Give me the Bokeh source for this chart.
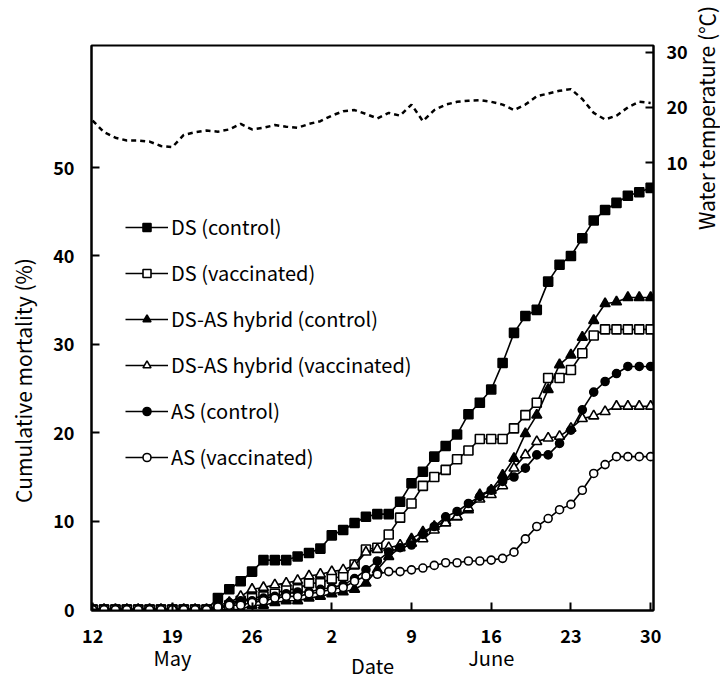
import math
from bokeh.plotting import figure
from bokeh.layouts import row
from bokeh.models import (Range1d, LinearAxis, FixedTicker, Legend, LegendItem,
                          ColumnDataSource)
from bokeh.embed import file_html
from bokeh.resources import INLINE

# ---------------- data ----------------
days = list(range(50))  # 0 = 12 May ... 49 = 30 June
x_ticks = [0, 7, 14, 21, 28, 35, 42, 49]
x_tick_labels = ["12", "19", "26", "2", "9", "16", "23", "30"]
month_labels = ["May", "June"]
month_label_days = [7, 35]
y_ticks = [0, 10, 20, 30, 40, 50]
temp_ticks = [10, 20, 30]

ds_control = [0]*11 + [1.3, 2.3, 3.2, 4.3, 5.6, 5.6, 5.6, 6.0, 6.4, 6.9,
                       8.4, 9.0, 9.8, 10.5, 10.8, 10.8, 12.2, 14.3, 15.6, 17.3,
                       18.5, 19.8, 22.1, 23.4, 24.9, 27.9, 31.3, 33.2, 33.9, 37.1,
                       39.0, 40.0, 42.0, 44.0, 45.2, 46.0, 46.8, 47.2, 47.7]
ds_vacc = [0]*12 + [0.5, 1.0, 1.3, 1.5, 1.8, 2.3, 2.3, 3.0, 3.0, 3.5,
                    3.8, 5.1, 6.8, 7.0, 8.5, 10.4, 12.0, 14.0, 15.0, 15.8,
                    17.0, 18.0, 19.3, 19.3, 19.3, 20.5, 22.0, 23.4, 26.2, 26.2,
                    27.1, 29.0, 31.0, 31.7, 31.7, 31.7, 31.7, 31.7]
hyb_control = [0]*14 + [0.5, 0.5, 0.8, 1.0, 1.0, 1.3, 1.5, 1.8, 2.0, 2.3,
                        3.0, 4.5, 6.0, 7.0, 8.0, 8.8, 9.4, 10.0, 10.5, 11.3,
                        13.0, 13.5, 15.2, 17.1, 19.9, 22.0, 24.9, 27.7, 28.8, 30.8,
                        32.7, 34.6, 34.8, 35.3, 35.3, 35.3]
hyb_vacc = [0]*12 + [0.8, 1.5, 2.3, 2.5, 2.8, 3.0, 3.3, 3.8, 4.0, 4.3,
                     4.5, 5.0, 6.5, 6.8, 7.0, 7.3, 7.5, 8.0, 9.0, 9.8,
                     10.5, 11.5, 12.5, 13.0, 14.0, 16.0, 17.5, 19.0, 19.4, 19.6,
                     20.5, 21.6, 21.9, 22.4, 23.0, 23.0, 23.0, 23.0]
as_control = [0]*11 + [0.5, 0.8, 1.0, 1.0, 1.3, 1.5, 1.8, 2.0, 2.0, 2.3,
                       2.5, 2.8, 3.5, 4.5, 5.5, 6.5, 7.0, 7.3, 8.5, 9.4,
                       10.5, 11.1, 12.0, 12.8, 13.5, 14.5, 15.0, 16.0, 17.5, 17.5,
                       18.8, 20.3, 22.6, 24.6, 25.8, 26.7, 27.5, 27.5, 27.5]
as_vacc = [0]*11 + [0.3, 0.5, 0.5, 0.8, 1.0, 1.3, 1.5, 1.5, 1.8, 2.0,
                    2.3, 2.5, 3.2, 3.8, 4.0, 4.3, 4.3, 4.5, 4.7, 5.0,
                    5.3, 5.3, 5.5, 5.5, 5.6, 5.8, 6.5, 8.0, 9.4, 10.3,
                    11.3, 11.9, 13.5, 15.4, 16.4, 17.3, 17.3, 17.3, 17.3]
water_temp = [17.6, 15.5, 14.5, 14.0, 14.0, 13.8, 13.0, 12.8, 15.0, 15.5,
              15.8, 15.6, 16.0, 17.0, 16.0, 16.3, 16.8, 16.5, 16.3, 17.0,
              17.5, 18.5, 19.3, 19.5, 18.8, 18.0, 19.0, 18.5, 20.5, 17.5,
              19.5, 20.5, 21.0, 21.2, 21.3, 21.0, 20.5, 19.5, 20.5, 22.0,
              22.5, 23.0, 23.3, 21.5, 19.0, 17.8, 18.5, 20.0, 21.0, 20.8]

series_names = ["DS (control)", "DS (vaccinated)", "DS-AS hybrid (control)",
                "DS-AS hybrid (vaccinated)", "AS (control)", "AS (vaccinated)"]
series_values = [ds_control, ds_vacc, hyb_control, hyb_vacc, as_control, as_vacc]
series_markers = ["square", "square", "triangle", "triangle", "circle", "circle"]
series_filled = [True, False, True, False, True, False]
series_sizes = [9, 9, 10, 10, 8, 8]

FONT = "Noto Sans CJK JP"
SP = "\u3000"  # ideographic space used to offset the axis titles along their axes

# ---------------- main figure ----------------
p = figure(width=690, height=682, title=None,
           x_range=Range1d(-0.1, 49.25), y_range=Range1d(-0.1, 63.8),
           output_backend="svg", toolbar_location=None,
           min_border_left=91, min_border_right=34,
           min_border_top=45, min_border_bottom=71)
p.grid.visible = False
p.outline_line_color = "black"
p.outline_line_width = 2
p.background_fill_color = "white"
p.border_fill_color = "white"

p.extra_y_ranges = {"temp": Range1d(-71.1, 31.2)}

xa = p.xaxis[0]
xa.ticker = FixedTicker(ticks=x_ticks)
xa.major_label_overrides = {t: l for t, l in zip(x_ticks, x_tick_labels)}
ya = p.yaxis[0]
ya.ticker = FixedTicker(ticks=y_ticks)
ra = LinearAxis(y_range_name="temp", ticker=FixedTicker(ticks=temp_ticks))
p.add_layout(ra, "right")

for ax in (xa, ya, ra):
    ax.axis_line_color = "black"
    ax.axis_line_width = 2
    ax.major_tick_in = 8
    ax.major_tick_out = 0
    ax.major_tick_line_width = 2
    ax.minor_tick_line_color = None
    ax.major_label_text_font = FONT
    ax.major_label_text_font_size = "18px"
    ax.major_label_text_font_style = "bold"
    ax.major_label_text_color = "black"
xa.major_label_standoff = 18
ya.major_label_standoff = 17
ra.major_label_standoff = 13

ya.axis_label = "Cumulative mortality (%)" + SP * 5
ya.axis_label_standoff = 12
ya.axis_label_text_font = FONT
ya.axis_label_text_font_size = "21px"
ya.axis_label_text_font_style = "normal"
ya.axis_label_text_color = "black"

# second axis below: month names and the "Date" title
ma = LinearAxis(ticker=FixedTicker(ticks=month_label_days))
ma.major_label_overrides = {d: m for d, m in zip(month_label_days, month_labels)}
ma.axis_line_color = None
ma.major_tick_line_color = None
ma.minor_tick_line_color = None
ma.major_tick_in = 0
ma.major_tick_out = 0
ma.major_label_standoff = -3
ma.major_label_text_font = FONT
ma.major_label_text_font_size = "20px"
ma.major_label_text_color = "black"
ma.axis_label = "Date"
ma.axis_label_standoff = -24
ma.axis_label_text_font = FONT
ma.axis_label_text_font_size = "20px"
ma.axis_label_text_font_style = "normal"
ma.axis_label_text_color = "black"
p.add_layout(ma, "below")

# temperature (dashed)
p.line(days, water_temp, y_range_name="temp", line_color="black",
       line_width=2.5, line_dash="5 4")

items = []
for name, vals, mk, filled, sz in zip(series_names, series_values, series_markers,
                                      series_filled, series_sizes):
    src = ColumnDataSource(dict(x=days, y=vals))
    lr = p.line("x", "y", source=src, line_color="black", line_width=1.6)
    sr = p.scatter("x", "y", source=src, marker=mk, size=sz,
                   fill_color="black" if filled else "white",
                   line_color="black", line_width=1.6)
    items.append(LegendItem(label=name, renderers=[lr, sr]))

legend = Legend(items=items, location=(34, 139), orientation="vertical",
                glyph_width=43, glyph_height=20, label_height=20,
                spacing=17, padding=0, margin=0, label_standoff=3,
                border_line_color=None, background_fill_alpha=0,
                label_text_font=FONT, label_text_font_size="20px",
                label_text_color="black")
p.add_layout(legend)

# ---------------- narrow strip carrying the right-hand axis title ----------------
t = figure(width=30, height=682, title=None,
           x_range=Range1d(0, 1), y_range=Range1d(0, 1),
           output_backend="svg", toolbar_location=None, min_border=0)
t.xaxis.visible = False
t.grid.visible = False
t.outline_line_color = None
t.background_fill_color = "white"
t.border_fill_color = "white"
ty = t.yaxis[0]
ty.ticker = FixedTicker(ticks=[])
ty.axis_line_color = None
ty.major_tick_line_color = None
ty.minor_tick_line_color = None
ty.major_tick_in = 0
ty.major_tick_out = 0
ty.major_label_standoff = 0
ty.major_label_text_font_size = "0px"
ty.axis_label = SP * 20 + "Water temperature (\u2103)"
ty.axis_label_standoff = 0
ty.axis_label_text_font = FONT
ty.axis_label_text_font_size = "21px"
ty.axis_label_text_font_style = "normal"
ty.axis_label_text_color = "black"

layout = row(p, t, spacing=0)
open("out.html", "w").write(file_html(layout, INLINE))
